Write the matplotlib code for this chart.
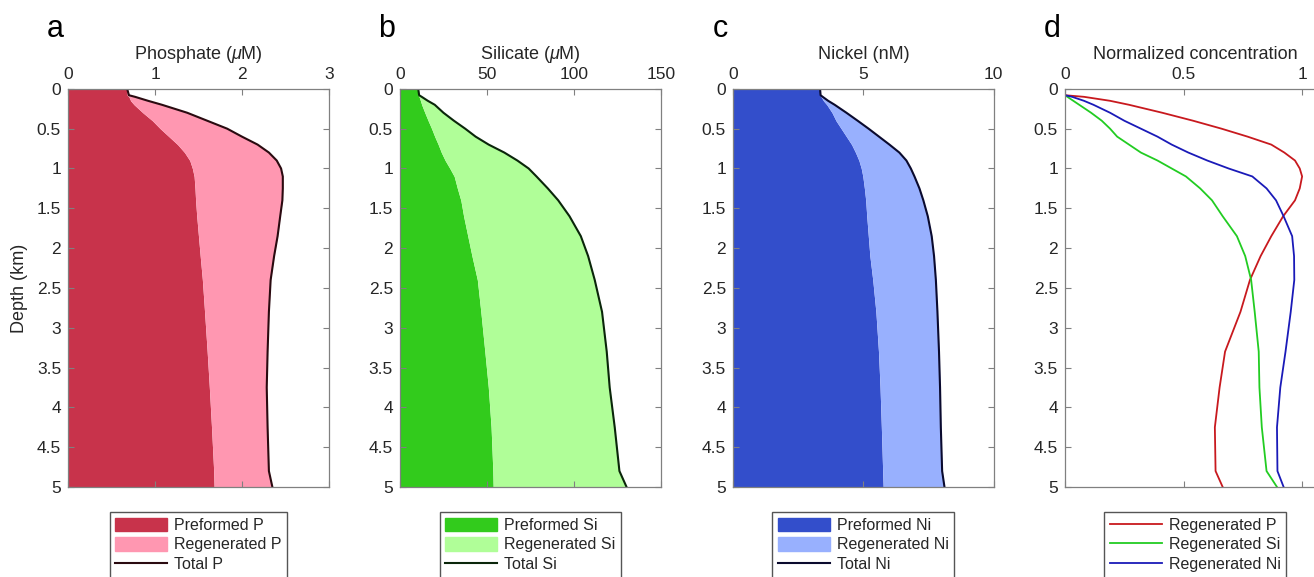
import matplotlib
matplotlib.use("Agg")
import matplotlib.pyplot as plt
from matplotlib.patches import Patch
from matplotlib.lines import Line2D

plt.rcParams['font.family'] = ['Liberation Sans', 'DejaVu Sans']
plt.rcParams['mathtext.fontset'] = 'custom'
plt.rcParams['mathtext.it'] = 'Liberation Sans:italic'
plt.rcParams['mathtext.rm'] = 'Liberation Sans'

# depth levels (km)
depth = [0, 0.08, 0.1, 0.15, 0.2, 0.3, 0.4, 0.5, 0.6, 0.7, 0.8, 0.9, 1.0, 1.1,
         1.25, 1.4, 1.6, 1.85, 2.1, 2.4, 2.8, 3.3, 3.75, 4.25, 4.8, 5.0]

# phosphate (uM)
p_pre = [0.68, 0.68, 0.70, 0.72, 0.76, 0.86, 0.97, 1.06, 1.16, 1.26, 1.34, 1.40, 1.43,
         1.45, 1.46, 1.467, 1.48, 1.50, 1.52, 1.545, 1.57, 1.60, 1.625, 1.65, 1.675, 1.68]
p_tot = [0.68, 0.70, 0.77, 0.92, 1.08, 1.37, 1.60, 1.83, 2.00, 2.18, 2.31, 2.40, 2.45,
         2.47, 2.47, 2.465, 2.44, 2.41, 2.37, 2.33, 2.31, 2.295, 2.285, 2.295, 2.31, 2.35]

# silicate (uM)
si_pre = [10.5, 10.5, 11, 11.8, 12.5, 14.3, 16.2, 18.2, 20, 22, 23.8, 26, 28.7, 31.2,
          33, 35, 36.6, 39, 41.4, 44.5, 46.5, 48.8, 50.8, 52.4, 53.4, 53.6]
si_tot = [10.5, 11, 12.5, 16, 20, 25, 31, 37.5, 43.5, 51, 60, 67.5, 74, 78.5,
          85, 91, 97.5, 104, 108.2, 112, 116.2, 118.9, 120.6, 123.5, 126.2, 130.3]

# nickel (nM)
ni_pre = [3.34, 3.34, 3.38, 3.47, 3.6, 3.8, 3.95, 4.15, 4.35, 4.55, 4.7, 4.83, 4.92,
          4.98, 5.04, 5.09, 5.13, 5.19, 5.25, 5.36, 5.48, 5.58, 5.64, 5.69, 5.74, 5.76]
ni_tot = [3.34, 3.36, 3.44, 3.65, 3.9, 4.35, 4.78, 5.2, 5.6, 6.0, 6.38, 6.65, 6.82,
          6.96, 7.15, 7.3, 7.47, 7.62, 7.71, 7.78, 7.84, 7.9, 7.94, 7.97, 8.02, 8.11]

# normalized regenerated concentrations
reg_p = [0, 0, 0.08, 0.19, 0.27, 0.41, 0.54, 0.66, 0.77, 0.87, 0.925, 0.97, 0.99,
         1.0, 0.99, 0.97, 0.92, 0.87, 0.825, 0.78, 0.74, 0.675, 0.652, 0.632, 0.635, 0.665]
reg_si = [0, 0, 0.01, 0.035, 0.06, 0.11, 0.155, 0.19, 0.22, 0.27, 0.32, 0.39, 0.45,
          0.51, 0.57, 0.62, 0.665, 0.725, 0.76, 0.785, 0.8, 0.817, 0.82, 0.83, 0.85, 0.894]
reg_ni = [0, 0, 0.03, 0.08, 0.12, 0.19, 0.25, 0.32, 0.39, 0.45, 0.52, 0.6, 0.69,
          0.79, 0.85, 0.89, 0.922, 0.958, 0.966, 0.967, 0.952, 0.93, 0.908, 0.894, 0.896, 0.922]

panels = [
    ('a', r'Phosphate ($\mu$M)', p_pre, p_tot, (0, 3), [0, 1, 2, 3], 'P',
     '#C8334B', '#FF97B1', '#2A0A10'),
    ('b', r'Silicate ($\mu$M)', si_pre, si_tot, (0, 150), [0, 50, 100, 150], 'Si',
     '#32CB1C', '#B0FE98', '#0A260A'),
    ('c', 'Nickel (nM)', ni_pre, ni_tot, (0, 10), [0, 5, 10], 'Ni',
     '#334ECB', '#98B0FE', '#0A0A2E'),
]

fig = plt.figure(figsize=(13.14, 5.77), dpi=100)
lefts = [0.0518, 0.3044, 0.5578, 0.8105]
W, B, H = 0.1985, 0.156, 0.690
gray = '#808080'
txt = '#262626'


def style_axes(ax, letter, xlabel):
    ax.set_ylim(5, 0)
    ax.set_yticks([0, 0.5, 1, 1.5, 2, 2.5, 3, 3.5, 4, 4.5, 5])
    ax.set_yticklabels(['0', '0.5', '1', '1.5', '2', '2.5', '3', '3.5', '4', '4.5', '5'])
    ax.xaxis.set_label_position('top')
    ax.xaxis.tick_top()
    ax.tick_params(direction='in', top=True, bottom=True, left=True, right=True,
                   labeltop=True, labelbottom=False, labelsize=12.5,
                   colors=gray, labelcolor=txt, length=4, width=0.8, pad=5)
    for s in ax.spines.values():
        s.set_color(gray)
        s.set_linewidth(0.9)
    ax.set_xlabel(xlabel, fontsize=13, color=txt, labelpad=6)
    ax.text(-0.05, 1.151, letter, transform=ax.transAxes, fontsize=22,
            ha='center', va='center', color='black')


def add_legend(ax, handles, labels):
    leg = ax.legend(handles, labels, loc='upper center', bbox_to_anchor=(0.5, -0.063),
                    fontsize=11.5, frameon=True, fancybox=False, handlelength=3.25,
                    handleheight=0.9, handletextpad=0.45, labelspacing=0.28,
                    borderpad=0.35, borderaxespad=0, framealpha=1)
    leg.get_frame().set_edgecolor('#555555')
    leg.get_frame().set_linewidth(1.0)
    for t in leg.get_texts():
        t.set_color(txt)


for i, (letter, xlabel, pre, tot, xlim, xt, el, c_pre, c_reg, c_tot) in enumerate(panels):
    ax = fig.add_axes([lefts[i], B, W, H])
    ax.fill_betweenx(depth, 0, pre, color=c_pre, linewidth=0)
    ax.fill_betweenx(depth, pre, tot, color=c_reg, linewidth=0)
    ax.plot(tot, depth, color=c_tot, lw=1.5)
    ax.set_xlim(*xlim)
    ax.set_xticks(xt)
    style_axes(ax, letter, xlabel)
    if i == 0:
        ax.set_ylabel('Depth (km)', fontsize=13, color=txt, labelpad=6)
    add_legend(ax,
               [Patch(color=c_pre), Patch(color=c_reg), Line2D([], [], color=c_tot, lw=1.5)],
               ['Preformed ' + el, 'Regenerated ' + el, 'Total ' + el])

ax = fig.add_axes([lefts[3], B, W, H])
l1, = ax.plot(reg_p, depth, color='#C8191E', lw=1.3)
l2, = ax.plot(reg_si, depth, color='#22CC22', lw=1.3)
l3, = ax.plot(reg_ni, depth, color='#1A1AB8', lw=1.3)
ax.set_xlim(0, 1.1)
ax.set_xticks([0, 0.5, 1])
ax.set_xticklabels(['0', '0.5', '1'])
style_axes(ax, 'd', 'Normalized concentration')
add_legend(ax, [l1, l2, l3], ['Regenerated P', 'Regenerated Si', 'Regenerated Ni'])

fig.savefig('out.png', dpi=100)
